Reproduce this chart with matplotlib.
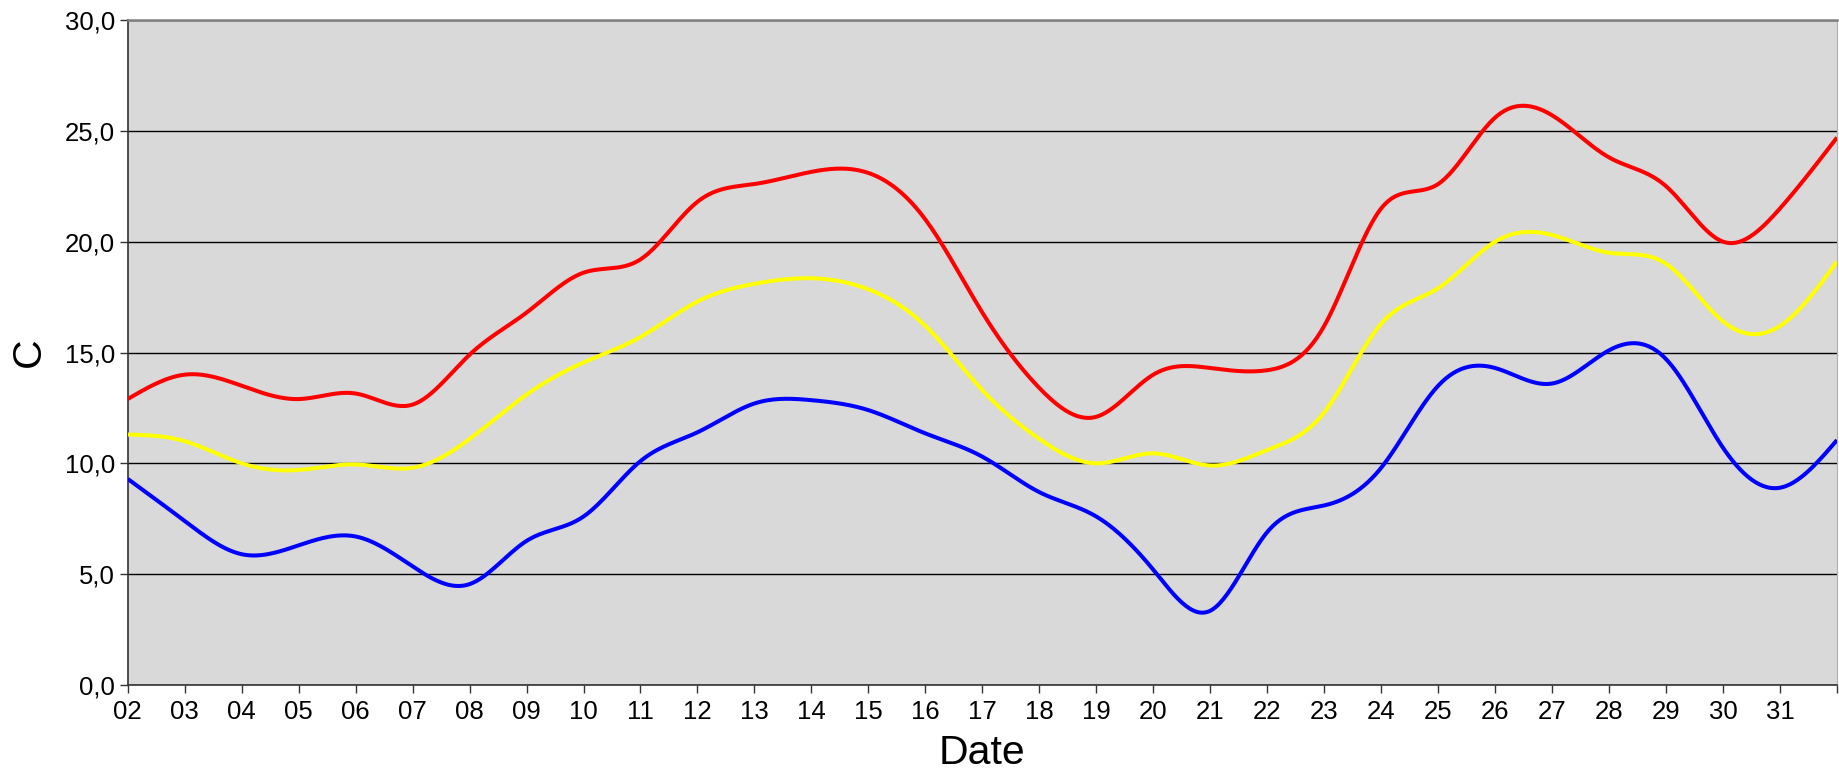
import numpy as np
import matplotlib
matplotlib.use("Agg")
import matplotlib.pyplot as plt
from matplotlib.ticker import FuncFormatter

# -----------------------------
# Data
# -----------------------------
days = ["02", "03", "04", "05", "06", "07", "08", "09", "10", "11",
        "12", "13", "14", "15", "16", "17", "18", "19", "20", "21",
        "22", "23", "24", "25", "26", "27", "28", "29", "30", "31", ""]

t_max = [12.9, 14.0, 13.5, 12.9, 13.15, 12.65, 14.9, 16.8, 18.6, 19.2,
         21.8, 22.6, 23.15, 23.1, 21.0, 16.8, 13.4, 12.1, 14.0, 14.3,
         14.2, 16.2, 21.5, 22.6, 25.6, 25.7, 23.8, 22.5, 20.0, 21.5, 24.7]

t_avg = [11.3, 11.0, 10.0, 9.7, 9.95, 9.8, 11.1, 13.1, 14.55, 15.7,
         17.3, 18.1, 18.35, 17.85, 16.2, 13.3, 11.1, 10.0, 10.45, 9.9,
         10.6, 12.3, 16.3, 17.9, 20.0, 20.3, 19.5, 19.0, 16.4, 16.2, 19.1]

t_min = [9.3, 7.4, 5.9, 6.3, 6.7, 5.35, 4.55, 6.5, 7.6, 10.1,
         11.4, 12.7, 12.85, 12.4, 11.35, 10.3, 8.7, 7.6, 5.2, 3.35,
         6.9, 8.1, 9.8, 13.5, 14.3, 13.6, 15.1, 14.7, 10.7, 8.9, 11.05]


# -----------------------------
# Natural cubic spline (smoothed lines)
# -----------------------------
def natural_spline(x, y, n_per_seg=30):
    x = np.asarray(x, dtype=float)
    y = np.asarray(y, dtype=float)
    n = len(x)
    h = np.diff(x)
    A = np.zeros((n, n))
    b = np.zeros(n)
    A[0, 0] = 1.0
    A[-1, -1] = 1.0
    for i in range(1, n - 1):
        A[i, i - 1] = h[i - 1]
        A[i, i] = 2 * (h[i - 1] + h[i])
        A[i, i + 1] = h[i]
        b[i] = 3 * ((y[i + 1] - y[i]) / h[i] - (y[i] - y[i - 1]) / h[i - 1])
    c = np.linalg.solve(A, b)
    xs, ys = [], []
    for i in range(n - 1):
        bi = (y[i + 1] - y[i]) / h[i] - h[i] * (2 * c[i] + c[i + 1]) / 3
        di = (c[i + 1] - c[i]) / (3 * h[i])
        t = np.linspace(0, h[i], n_per_seg, endpoint=(i == n - 2))
        xs.append(x[i] + t)
        ys.append(y[i] + bi * t + c[i] * t ** 2 + di * t ** 3)
    return np.concatenate(xs), np.concatenate(ys)


plt.rcParams['font.family'] = ['Liberation Sans', 'DejaVu Sans']

fig = plt.figure(figsize=(18.39, 7.75), dpi=100)
ax = fig.add_axes([127.7 / 1839, 1 - 685 / 775, (1837 - 127.7) / 1839, 665 / 775])
ax.set_facecolor("#d9d9d9")

x = np.arange(len(days))
for series, color in [(t_max, "#ff0000"), (t_avg, "#ffff00"), (t_min, "#0000ff")]:
    sx, sy = natural_spline(x, series)
    ax.plot(sx, sy, color=color, linewidth=2.9, solid_capstyle="butt", zorder=3)

ax.set_xlim(0, len(days) - 1)
ax.set_ylim(0, 30)
ax.set_xticks(x)
ax.set_xticklabels(days)
ax.set_yticks(np.arange(0, 31, 5))
ax.yaxis.set_major_formatter(FuncFormatter(lambda v, p: f"{v:.1f}".replace(".", ",")))

ax.grid(axis="y", color="black", linewidth=1.0, zorder=1)
ax.set_axisbelow(True)

ax.tick_params(axis="both", labelsize=18.5, length=6, width=1.0, color="#333333", pad=3)
ax.tick_params(axis="x", pad=5)

ax.spines["top"].set_color("#808080")
ax.spines["top"].set_linewidth(1.8)
ax.spines["right"].set_color("#b0b0b0")
ax.spines["left"].set_color("#333333")
ax.spines["bottom"].set_color("#333333")
ax.spines["left"].set_linewidth(1.2)
ax.spines["bottom"].set_linewidth(1.2)

ax.set_xlabel("Date", fontsize=29.5, labelpad=7)
ax.set_ylabel("C", fontsize=29.5, labelpad=12)

fig.savefig("out.png", dpi=100)
